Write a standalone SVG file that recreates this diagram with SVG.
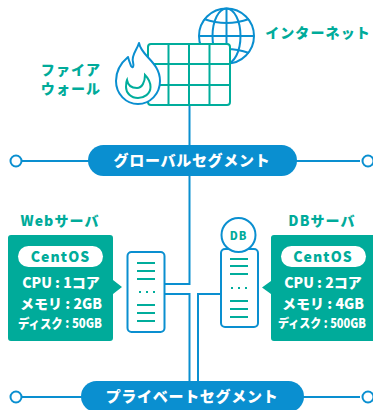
<svg xmlns="http://www.w3.org/2000/svg" width="373" height="410" viewBox="0 0 373 410">
<style>
text{font-family:"Noto Sans CJK JP","Noto Sans",sans-serif;font-weight:900;text-anchor:middle}
.b{fill:none;stroke:#0a8fd0;stroke-width:2}
.g{fill:none;stroke:#00ad9c;stroke-width:2}
.n{fill:#fff;stroke:#0a8fd0;stroke-width:2}
.pill{fill:#0a8fd0}
.card{fill:#00ab9a}
.t{fill:#00ab9a;font-size:14px;letter-spacing:1.100px}
.w{fill:#fff;font-size:14px}
.d{fill:#fff;font-size:13px}
.p{fill:#fff;font-size:15px;letter-spacing:.7px}
.c{fill:#00ab9a;font-size:14px;letter-spacing:1.100px}
</style>
<g id="connectors" class="b">
<path d="M189.500 105V284H165M165 294H189.500V382"/>
<path d="M198 382V294H221"/>
<path d="M22 161H90M296 161H360M22 397H84M302 397H360"/>
</g>
<g id="internet">
<circle class="b" cx="226.500" cy="36" r="27.500"/>
<path class="b" d="M226.500 8.500V63.500M199 36H254M204 19Q226.500 27 249 19M204 53Q226.500 45 249 53"/>
<ellipse class="b" cx="226.500" cy="36" rx="14" ry="27.500"/>
<text class="t" x="318" y="38">インターネット</text>
</g>
<g id="firewall">
<rect x="148" y="44" width="82" height="61" rx="3" fill="#fff" stroke="#00ad9c" stroke-width="2"/>
<path class="g" d="M168.500 44V105M189 44V105M209.500 44V105M148 64H230M148 85H230"/>
<path d="M139 43C141 56 160 62 160 81C160 94 150 104 138 104C126 104 116 94 116 81C116 70 122 62 128 57C129 61 130 63 131 66C133 69 134 66 133 62C131 55 137 50 139 43Z" fill="#fff" stroke="#0a8fd0" stroke-width="2" stroke-linejoin="round"/>
<path class="g" d="M127 80C128 86 132 88 137 88C142 88 145 82 145 75C148 78 150.500 82 150.500 87C150.500 94 144 98 138 98C131 98 126 93 126 87C126 84 126 82 127 80Z"/>
<text class="t" x="71" y="75">ファイア</text>
<text class="t" x="71" y="94">ウォール</text>
</g>
<g id="global-segment">
<circle class="n" cx="16" cy="161" r="5.500"/>
<circle class="n" cx="368" cy="161" r="5.500"/>
<rect class="pill" x="88" y="145" width="209" height="31" rx="15.500"/>
<text class="p" x="192" y="166">グローバルセグメント</text>
</g>
<g id="web-server">
<text class="t" x="60" y="226">Webサーバ</text>
<path class="card" d="M11 235H110Q113 235 113 238V280L122 287L113 294V338Q113 341 110 341H11Q8 341 8 338V238Q8 235 11 235Z"/>
<rect x="18" y="246" width="85" height="21" rx="10.500" fill="#fff"/>
<text class="c" x="60.500" y="262">CentOS</text>
<text class="w" x="61" y="288">CPU : 1コア</text>
<text class="w" x="61" y="309">メモリ : 2GB</text>
<text class="d" x="60" y="328" textLength="84" lengthAdjust="spacingAndGlyphs">ディスク : 50GB</text>
<rect class="n" x="127.500" y="252" width="37" height="80" rx="4"/>
<path class="g" d="M137 263H155M137 271H155M137 279H155M137 305H155M137 313H155M137 321H155"/>
<path class="g" stroke-dasharray="2 5" d="M139 292H155"/>
</g>
<g id="db-server">
<rect class="n" x="221" y="249" width="37" height="78" rx="4"/>
<circle class="n" cx="238.500" cy="235" r="17"/>
<text x="238.500" y="240" fill="#00ab9a" style="font-size:11px;letter-spacing:1px">DB</text>
<path class="g" d="M230 259H248M230 266H248M230 274H248M230 301H248M230 309H248M230 317H248"/>
<path class="g" stroke-dasharray="2 5" d="M231 288H248"/>
<text class="t" x="322" y="226">DBサーバ</text>
<path class="card" d="M274 235H373V341H274Q271 341 271 338V294L262 287.500L271 281V238Q271 235 274 235Z"/>
<rect x="281" y="246" width="85" height="21" rx="10.500" fill="#fff"/>
<text class="c" x="323" y="262">CentOS</text>
<text class="w" x="323" y="288">CPU : 2コア</text>
<text class="w" x="323" y="309">メモリ : 4GB</text>
<text class="d" x="322" y="328" textLength="88" lengthAdjust="spacingAndGlyphs" style="font-size:12.500px">ディスク : 500GB</text>
</g>
<g id="private-segment">
<circle class="n" cx="16" cy="397" r="5.500"/>
<circle class="n" cx="368" cy="397" r="5.500"/>
<rect class="pill" x="81" y="381" width="223" height="31" rx="15.500"/>
<text class="p" x="192" y="402">プライベートセグメント</text>
</g>
</svg>
